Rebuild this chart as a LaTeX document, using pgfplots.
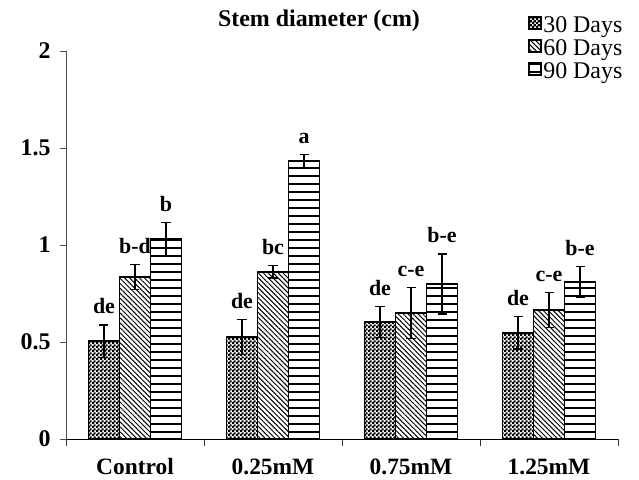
\documentclass[border=0pt]{standalone}
\usepackage{fontspec}
\setmainfont{Liberation Serif}
\usepackage{pgfplots}
\pgfplotsset{compat=1.18}
\usepackage{pgfplotstable}
\usetikzlibrary{patterns.meta}

\tikzdeclarepattern{
  name=checker, type=uncolored,
  bounding box={(0,0) and (4bp,4bp)},
  tile size={(4bp,4bp)},
  code={
    \pgfpathrectangle{\pgfpointorigin}{\pgfpoint{2.6bp}{2.6bp}}
    \pgfpathrectangle{\pgfpoint{2bp}{2bp}}{\pgfpoint{2.6bp}{2.6bp}}
    \pgfusepath{fill}
  }
}

\pgfplotstableread{
x v30 e30 v60 e60 v90 e90 l30 l60 l90
0 0.505 0.083 0.835 0.065 1.030 0.085 de b-d b
1 0.526 0.090 0.862 0.032 1.433 0.032 de bc a
2 0.603 0.080 0.649 0.130 0.799 0.155 de c-e b-e
3 0.547 0.083 0.665 0.090 0.809 0.080 de c-e b-e
}\datatab

\pgfplotsset{
  mybar/.style={ybar, bar width=31bp, bar shift=0bp, draw=black, line width=1.6bp,
    error bars/.cd, y dir=both, y explicit,
    error bar style={line width=1.2bp, black},
    error mark options={rotate=90, black, line width=1.2bp, mark size=4.5bp}},
  mylab/.style={forget plot, only marks, mark=none,
    point meta=explicit symbolic, nodes near coords,
    every node near coord/.append style={font=\bfseries\fontsize{22}{22}\selectfont,
      inner sep=0pt, anchor=base, yshift=11bp}},
}

\begin{document}
\begin{tikzpicture}
\begin{axis}[
  at={(0,0)}, anchor=south west,
  scale only axis, width=552bp, height=388bp,
  xmin=-0.5, xmax=3.5, ymin=0, ymax=2,
  axis x line*=bottom, axis y line*=left,
  x axis line style={black, line width=1bp},
  y axis line style={black!70, line width=0.9bp},
  xtick={0,1,2,3},
  xticklabels={Control,0.25mM,0.75mM,1.25mM},
  major x tick style={draw=none},
  minor xtick={-0.5,0.5,1.5,2.5,3.5},
  minor x tick style={black!80, line width=0.9bp},
  minor tick length=7bp,
  ytick={0,0.5,1,1.5,2},
  yticklabels={0,0.5,1,1.5,2},
  y tick style={black!70, line width=0.9bp},
  major tick length=6bp,
  tick align=outside,
  xticklabel style={font=\bfseries\fontsize{23.5}{23.5}\selectfont, yshift=-10bp},
  yticklabel style={font=\bfseries\fontsize{24}{24}\selectfont, xshift=-6bp},
  title={Stem diameter (cm)},
  title style={at={(0.4583,1.049)}, anchor=base, inner sep=0pt,
    font=\bfseries\fontsize{24}{24}\selectfont},
  legend style={draw=none, fill=none, at={(0.837,1.0915)}, anchor=north west,
    font=\fontsize{24}{24}\selectfont, inner sep=0pt, row sep=0bp,
    nodes={inner sep=1.5bp, text height=15bp, text depth=5bp}},
  legend cell align=left,
  legend image code/.code={\draw[#1] (0bp,-2bp) rectangle (12bp,10bp);},
  clip=false,
]
\addplot[pattern=checker, mybar]
  table[x expr=\thisrow{x}-0.22464, y=v30, y error=e30]{\datatab};
\addlegendentry{30 Days}
\addplot[pattern={Lines[angle=-45, distance=3.5bp, line width=1bp]}, mybar]
  table[x=x, y=v60, y error=e60]{\datatab};
\addlegendentry{60 Days}
\addplot[pattern={Lines[angle=0, distance=8bp, line width=2bp]}, mybar]
  table[x expr=\thisrow{x}+0.22464, y=v90, y error=e90]{\datatab};
\addlegendentry{90 Days}
% letter labels
\addplot[mylab] table[x expr=\thisrow{x}-0.22464, y expr=\thisrow{v30}+\thisrow{e30}, meta=l30]{\datatab};
\addplot[mylab] table[x=x, y expr=\thisrow{v60}+\thisrow{e60}, meta=l60]{\datatab};
\addplot[mylab] table[x expr=\thisrow{x}+0.22464, y expr=\thisrow{v90}+\thisrow{e90}, meta=l90]{\datatab};
\end{axis}
\pgfresetboundingbox
\path[use as bounding box] (-66bp,-41bp) rectangle (573bp,439bp);
\end{tikzpicture}
\end{document}
